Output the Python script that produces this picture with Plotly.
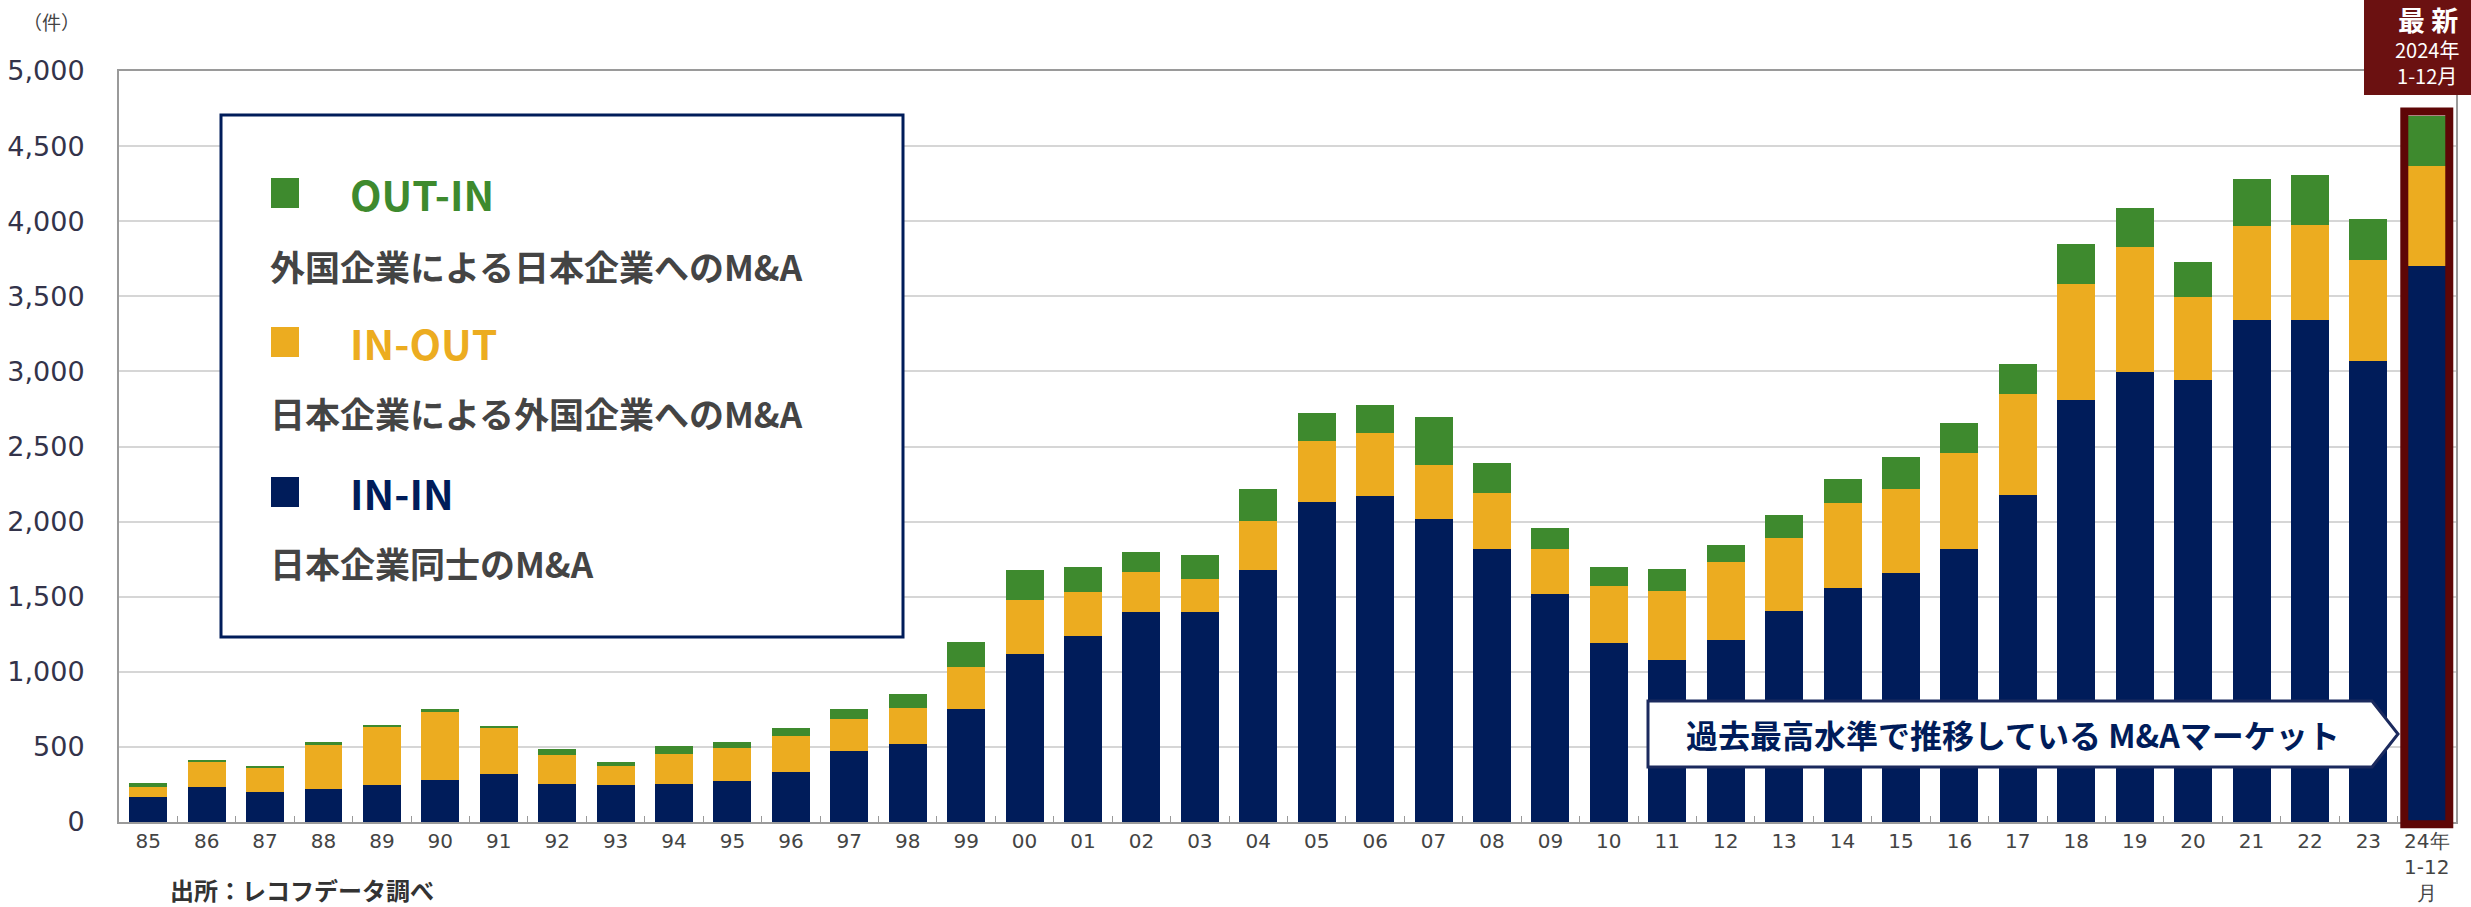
import plotly.graph_objects as go

# ---------------- data ----------------
years = ["85", "86", "87", "88", "89", "90", "91", "92", "93", "94", "95", "96", "97", "98", "99",
         "00", "01", "02", "03", "04", "05", "06", "07", "08", "09", "10", "11", "12", "13", "14",
         "15", "16", "17", "18", "19", "20", "21", "22", "23", "24年<br>1-12<br>月"]
in_in = [165, 231, 200, 220, 245, 280, 320, 255, 245, 255, 270, 330, 470, 520, 750,
         1120, 1240, 1400, 1400, 1680, 2130, 2170, 2020, 1815, 1520, 1195, 1080, 1215, 1405, 1560,
         1655, 1815, 2180, 2810, 2995, 2945, 3340, 3345, 3070, 3700]
in_out = [70, 169, 162, 295, 390, 455, 305, 190, 125, 200, 220, 240, 215, 240, 280,
          360, 290, 265, 215, 325, 405, 420, 360, 375, 300, 375, 455, 515, 485, 565,
          565, 640, 670, 775, 830, 550, 625, 630, 670, 670]
out_in = [27, 12, 11, 15, 10, 20, 15, 40, 30, 50, 40, 55, 70, 90, 170,
          200, 170, 135, 165, 210, 190, 185, 315, 200, 135, 130, 150, 115, 155, 160,
          210, 200, 200, 265, 265, 235, 315, 330, 275, 330]
y_ticks = list(range(0, 5001, 500))

NAVY = "#001c5a"
YELLOW = "#ecac20"
GREEN = "#3e8a2e"
DARKRED = "#5e0606"
BOXRED = "#6b1111"
TEXT = "#444444"
CJK = "Noto Sans CJK JP"

fig = go.Figure()
fig.add_bar(x=years, y=in_in, name="IN-IN", marker=dict(color=NAVY, line=dict(width=0)))
fig.add_bar(x=years, y=in_out, name="IN-OUT", marker=dict(color=YELLOW, line=dict(width=0)))
fig.add_bar(x=years, y=out_in, name="OUT-IN", marker=dict(color=GREEN, line=dict(width=0)))

# geometry helpers (plot area in pixels)
L, R, T, B = 119, 2456, 71, 822
W, H = R - L, B - T
def px(x):
    return (x - L) / W
def py(y):
    return (B - y) / H

shapes = []
annotations = []

# highlight frame around latest bar
last = len(years) - 1
total_last = in_in[last] + in_out[last] + out_in[last]
shapes.append(dict(type="rect", xref="x", yref="paper", x0=last - 0.385, x1=last + 0.385,
                   y0=-0.003, y1=(total_last + 30) / y_ticks[-1],
                   line=dict(color=DARKRED, width=8), fillcolor="rgba(0,0,0,0)", layer="above"))

# top-right label box
shapes.append(dict(type="rect", xref="paper", yref="paper", x0=px(2364), x1=px(2490),
                   y0=py(95), y1=py(-10), fillcolor=BOXRED, line=dict(width=0), layer="above"))
annotations += [
    dict(text="<b>最 新</b>", x=px(2428), y=py(19), font=dict(family=CJK, size=27, color="white")),
    dict(text="2024年<br>1-12月", x=px(2427), y=py(62),
         font=dict(family=CJK, size=20, color="white")),
]

# legend box
shapes.append(dict(type="rect", xref="paper", yref="paper", x0=px(221), x1=px(903),
                   y0=py(637), y1=py(115), fillcolor="white", line=dict(color=NAVY, width=3),
                   layer="above"))
legend_items = [("OUT-IN", GREEN, "外国企業による日本企業へのM&A", 193, 265),
                ("IN-OUT", YELLOW, "日本企業による外国企業へのM&A", 342, 412),
                ("IN-IN", NAVY, "日本企業同士のM&A", 492, 562)]
for name, col, desc, yc, yd in legend_items:
    shapes.append(dict(type="rect", xref="paper", yref="paper", x0=px(271), x1=px(299),
                       y0=py(yc + 15), y1=py(yc - 15), fillcolor=col, line=dict(width=0),
                       layer="above"))
    annotations.append(dict(text=name, x=px(348), y=py(yc), xanchor="left",
                            font=dict(family=CJK, size=41, color=col, weight=700)))
    annotations.append(dict(text=desc, x=px(268), y=py(yd), xanchor="left",
                            font=dict(family=CJK, size=35, color=TEXT, weight=700)))

# callout arrow
path = "M {a},{t} L {b},{t} L {c},{m} L {b},{bo} L {a},{bo} Z".format(
    a=px(1648), b=px(2372), c=px(2398), t=py(701), m=py(734), bo=py(767))
shapes.append(dict(type="path", xref="paper", yref="paper", path=path, fillcolor="white",
                   line=dict(color="#1b2a5e", width=3), layer="above"))
annotations.append(dict(text="過去最高水準で推移している M&Aマーケット", x=px(2013), y=py(734),
                        font=dict(family=CJK, size=32, color=NAVY, weight=700)))

# unit and source
annotations.append(dict(text="（件）", x=px(51), y=py(22),
                        font=dict(family=CJK, size=19, color=TEXT)))
annotations.append(dict(text="出所：レコフデータ調べ", x=px(168), y=py(889), xanchor="left",
                        font=dict(family=CJK, size=24, color="#333333", weight=700)))

for a in annotations:
    a.setdefault("xref", "paper")
    a.setdefault("yref", "paper")
    a.setdefault("xanchor", "center")
    a.setdefault("yanchor", "middle")
    a.setdefault("showarrow", False)

fig.update_layout(
    width=2471, height=907,
    margin=dict(l=L, r=2471 - R, t=T, b=907 - B, pad=0, autoexpand=False),
    barmode="stack", bargap=0.35,
    plot_bgcolor="white", paper_bgcolor="white",
    showlegend=False,
    shapes=shapes, annotations=annotations,
    xaxis=dict(type="category", automargin=False, showline=True, linecolor="#9a9a9a",
               linewidth=2, mirror=True, ticks="inside", tickson="boundaries", ticklen=6,
               tickcolor="#9a9a9a", tickwidth=1, showgrid=False,
               tickfont=dict(family="DejaVu Sans", size=20, color="#444444")),
    yaxis=dict(range=[0, 5000], automargin=False, tickvals=y_ticks, tickformat=",",
               showgrid=True, gridcolor="#d6d6d6", gridwidth=2, showline=True,
               linecolor="#9a9a9a", linewidth=2, mirror=True, ticks="", ticklabelstandoff=27,
               zeroline=False, tickfont=dict(family="DejaVu Sans", size=27, color="#33334a")),
)

fig.write_html("out.html", config={"displayModeBar": False},
               post_script="document.body.style.margin='0';document.body.style.overflow='hidden';")
